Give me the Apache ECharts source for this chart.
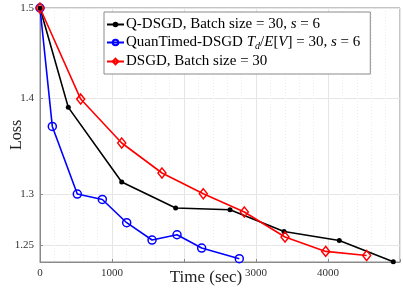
<!DOCTYPE html>
<html>
<head>
<meta charset="utf-8">
<script src="https://cdn.jsdelivr.net/npm/echarts@6/dist/echarts.min.js"></script>
<style>html,body{margin:0;padding:0;background:#fff}#c{width:403px;height:294px}</style>
</head>
<body>
<div id="c"></div>
<script>
var seriesNames = ['Q-DSGD', 'QuanTimed-DSGD', 'DSGD'];
var qdsgdTime = [0, 393, 1135, 1884, 2639, 3389, 4157, 4907];
var qdsgdLoss = [1.5, 1.3898, 1.3124, 1.2864, 1.2847, 1.2635, 1.2548, 1.2345];
var quanTime = [0, 171, 518, 866, 1204, 1556, 1903, 2245, 2768];
var quanLoss = [1.5, 1.3696, 1.3003, 1.2949, 1.2720, 1.2552, 1.2603, 1.2475, 1.2373];
var dsgdTime = [0, 565, 1135, 1694, 2268, 2838, 3403, 3968, 4537];
var dsgdLoss = [1.5, 1.3987, 1.3523, 1.3215, 1.3006, 1.2825, 1.2581, 1.2443, 1.2404];
var yTicks = [1.25, 1.3, 1.4, 1.5];
var xTickLabels = { 0: '0', 1000: '1000', 3000: '3000', 4000: '4000' };

function pairs(t, v) { return t.map(function (x, i) { return [x, v[i]]; }); }
var serif = 'Liberation Serif';
var fs = 15;
var chart = echarts.init(document.getElementById('c'));
var rich = {
  i: { fontStyle: 'italic', fontFamily: serif, fontSize: fs, color: '#000' },
  sub: { fontStyle: 'italic', fontFamily: serif, fontSize: 10, color: '#000', verticalAlign: 'bottom', padding: [7, 0, 0, 0] },
  n: { fontFamily: serif, fontSize: fs, color: '#000' }
};
var legendText = {
  'Q-DSGD': '{n|Q-DSGD, Batch size = 30, }{i|s}{n| = 6}',
  'QuanTimed-DSGD': '{n|QuanTimed-DSGD }{i|T}{sub|d}{n|/}{i|E}{n|[}{i|V}{n|] = 30, }{i|s}{n| = 6}',
  'DSGD': '{n|DSGD, Batch size = 30}'
};
chart.setOption({
  animation: false,
  grid: { left: 40, right: 3, top: 8, bottom: 32, outerBoundsMode: 'none', containLabel: false,
    show: true, borderColor: '#8a8a8a', borderWidth: 1 },
  legend: {
    orient: 'vertical', left: 104, top: 12, itemGap: 3, itemWidth: 17, itemHeight: 7,
    backgroundColor: '#fff', borderColor: '#8a8a8a', borderWidth: 1, padding: [5, 10, 5, 2],
    data: seriesNames,
    formatter: function (n) { return legendText[n]; },
    textStyle: { rich: rich, fontFamily: serif, fontSize: fs, color: '#000', padding: [0, 0, 0, -3] }
  },
  xAxis: {
    type: 'value', min: 0, max: 5000, interval: 1000,
    name: 'Time (sec)', nameLocation: 'middle', nameGap: 7, nameMoveOverlap: false,
    nameTextStyle: { fontFamily: serif, fontSize: 17, color: '#222', padding: [0, 28, 0, 0] },
    axisLine: { show: true, lineStyle: { color: '#8a8a8a' } },
    axisTick: { show: true, inside: true, length: 3, lineStyle: { color: '#8a8a8a' } },
    axisLabel: { fontFamily: serif, fontSize: 11, color: '#333', margin: 6,
      formatter: function (v) { return xTickLabels[v] || ''; } },
    splitLine: { show: true, lineStyle: { color: '#e6e6e6' } },
    minorTick: { show: false, splitNumber: 5 },
    minorSplitLine: { show: true, lineStyle: { color: '#ececec', type: [1, 2] } }
  },
  yAxis: {
    type: 'log', logBase: 10, min: 1.2342, max: 1.5,
    name: 'Loss', nameLocation: 'middle', nameGap: 15, nameMoveOverlap: false,
    nameTextStyle: { fontFamily: serif, fontSize: 16, color: '#222' },
    axisLine: { show: true, lineStyle: { color: '#8a8a8a' } },
    axisTick: { show: true, inside: true, length: 3, customValues: yTicks, lineStyle: { color: '#8a8a8a' } },
    axisLabel: { fontFamily: serif, fontSize: 11, color: '#333', margin: 6, customValues: yTicks,
      formatter: function (v) { return String(+v.toFixed(2)); } },
    splitLine: { show: true, lineStyle: { color: '#e6e6e6' } }
  },
  series: [
    { name: 'Q-DSGD', type: 'line', data: pairs(qdsgdTime, qdsgdLoss),
      symbol: 'circle', symbolSize: 5, lineStyle: { width: 1.6, color: '#000' }, itemStyle: { color: '#000' } },
    { name: 'QuanTimed-DSGD', type: 'line', data: pairs(quanTime, quanLoss),
      symbol: 'circle', symbolSize: 8, lineStyle: { width: 1.6, color: '#0000ff' },
      itemStyle: { color: 'rgba(255,255,255,0)', borderColor: '#0000ff', borderWidth: 1.5 } },
    { name: 'DSGD', type: 'line', data: pairs(dsgdTime, dsgdLoss),
      symbol: 'diamond', symbolSize: [8, 10], lineStyle: { width: 1.6, color: '#ff0000' },
      itemStyle: { color: 'rgba(255,255,255,0)', borderColor: '#ff0000', borderWidth: 1.5 } }
  ]
});
</script>
</body>
</html>
